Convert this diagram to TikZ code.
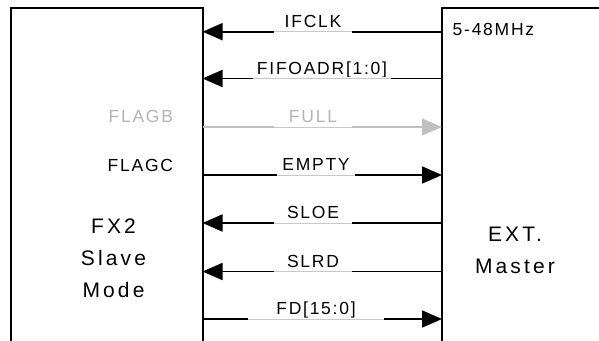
\documentclass[tikz,border=0pt]{standalone}
\usepackage{fontspec}
\setmainfont{Liberation Sans}[LetterSpace=10]
\newfontfamily\bigfont{Liberation Sans}[LetterSpace=15]
\usetikzlibrary{arrows.meta}
\definecolor{lgray}{HTML}{B4B4B4}
\definecolor{agray}{HTML}{C0C0C0}
\definecolor{ggray}{HTML}{C8C8C8}
\begin{document}
\begin{tikzpicture}[x=1pt,y=-1pt,
  box/.style={draw=black,line width=2pt,rectangle,outer sep=0pt,inner sep=0pt,anchor=north west},
  sig/.style={line width=1.8pt,draw=black},
  tipl/.style={{Triangle[length=20pt,width=17pt]}-},
  tipr/.style={-{Triangle[length=20pt,width=17pt]}},
  lab/.style={font=\fontsize{17.5}{20}\selectfont,anchor=south,inner xsep=0pt,inner ysep=4pt,text depth=0pt},
  gap/.style={draw=white,line width=3pt,postaction={draw=ggray,line width=0.8pt}},
  small/.style={font=\fontsize{17.5}{20}\selectfont,inner sep=0pt,outer sep=0pt},
  big/.style={font=\bigfont\fontsize{21}{32}\selectfont,align=center,inner sep=0pt},
]
\useasboundingbox (0,0) rectangle (599,340);
\clip (0,0) rectangle (599,340);
% boxes
\node[box,minimum width=192pt,minimum height=360pt] (fx2) at (10.5,7.5) {};
\node[box,minimum width=200pt,minimum height=360pt] (ext) at (442,7.5) {};
% end points
\coordinate (L1) at (202.5,31.7);  \coordinate (R1) at (442,31.7);
\coordinate (L2) at (202.5,78.5);  \coordinate (R2) at (442,78.5);
\coordinate (L3) at (202.5,127);   \coordinate (R3) at (442,127);
\coordinate (L4) at (202.5,175);   \coordinate (R4) at (442,175);
\coordinate (L5) at (202.5,223);   \coordinate (R5) at (442,223);
\coordinate (L6) at (202.5,271.5); \coordinate (R6) at (442,271.5);
\coordinate (L7) at (202.5,319);   \coordinate (R7) at (442,319);
% signals
\draw[sig,tipl] (L1) -- (R1);
\draw[sig,tipl] (L2) -- (R2);
\draw[sig,draw=agray,line width=1.2pt,-{Triangle[length=20pt,width=17pt]},color=agray] (L3) -- (R3);
\draw[sig,tipr] (L4) -- (R4);
\draw[sig,tipl] (L5) -- (R5);
\draw[sig,tipl] (L6) -- (R6);
\draw[sig,tipr] (L7) -- (R7);
% labels on signals
\node[lab,minimum width=78pt] (t1) at (313,31.7) {IFCLK};
\node[lab,minimum width=137pt] (t2) at (322,78.5) {FIFOADR[1:0]};
\node[lab,minimum width=78pt,text=lgray] (t3) at (313,127) {FULL};
\node[lab,minimum width=78pt] (t4) at (316,175) {EMPTY};
\node[lab,minimum width=78pt] (t5) at (313,223) {SLOE};
\node[lab,minimum width=78pt] (t6) at (313,271.5) {SLRD};
\node[lab,minimum width=135pt] (t7) at (316,319) {FD[15:0]};
\foreach \t in {t1,t2,t3,t4,t5,t6,t7}
  \draw[gap] (\t.south west) -- (\t.south east);
% side texts
\node[small,anchor=base east,text=lgray] (flagb) at (173,122.7) {FLAGB};
\node[small,anchor=base east] (flagc) at (173,171) {FLAGC};
\node[small,anchor=base west] (mhz) at (452.7,35) {5-48MHz};
\node[big,anchor=base] (fx2t) at (113.5,297) {FX2\\Slave\\Mode};
\node[big,anchor=base] (extt) at (515,273) {EXT.\\Master};
\end{tikzpicture}
\end{document}
